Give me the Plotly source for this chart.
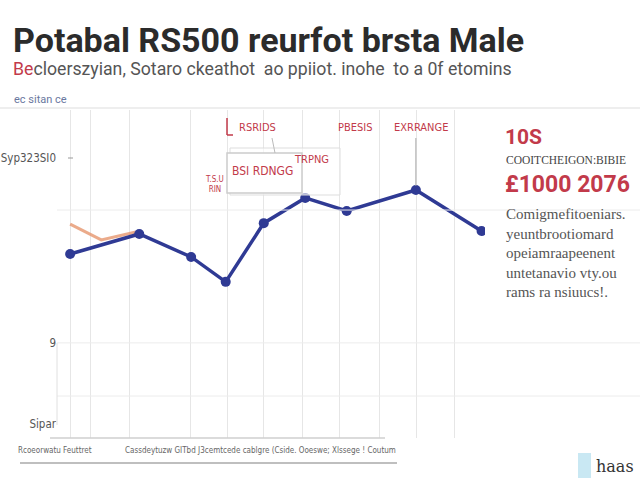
import plotly.graph_objects as go

# ---- data ----
x_main = [0, 2.0, 3.5, 4.5, 5.6, 6.8, 8.0, 10.0, 11.9]
y_main = [56.1, 62.2, 55.2, 47.6, 65.5, 73.2, 69.2, 75.6, 63.1]
x_orange = [0, 0.9, 1.9]
y_orange = [65.2, 60.4, 62.8]

y_tick_vals = [4.3, 29, 85.4]
y_tick_text = ["Sipar", "9", "Syp323SI0"]
grid_x = [0, 0.58, 1.73, 3.47, 4.54, 5.58, 6.73, 7.8, 8.96, 10.03, 11.13]
grid_y = [12.8, 29, 69.5]

title = "Potabal RS500 reurfot brsta Male"
subtitle_red = "Be"
subtitle_rest = "cloerszyian, Sotaro ckeathot  ao ppiiot. inohe  to a 0f etomins"
kicker = "ec sitan ce"
x_label_left = "Rcoeorwatu Feuttret"
x_label_right = "Cassdeytuzw GITbd J3cemtcede cablgre (Cside. Ooeswe; Xlssege ! Coutum"
panel_head = "10S"
panel_sub = "COOITCHEIGON:BIBIE"
panel_big = "£1000 2076"
panel_body = ["Comigmefitoeniars.", "yeuntbrootiomard", "opeiamraapeenent",
              "untetanavio vty.ou", "rams ra nsiuucs!."]
callouts = ["RSRIDS", "PBESIS", "EXRRANGE", "BSI RDNGG", "TRPNG", "T.S.U<br>RIN"]
brand = "haas"

W, H = 640, 480
def P(x):
    return x / W
def Q(y):
    return 1 - y / H

RED = "#c23a4a"
BLUE = "#2f3a94"
COND = "DejaVu Sans Condensed, Roboto Condensed, Roboto"

fig = go.Figure()
fig.add_trace(go.Scatter(x=x_orange, y=y_orange, mode="lines",
                         line=dict(color="rgba(230,150,110,0.8)", width=3),
                         hoverinfo="skip", showlegend=False))
fig.add_trace(go.Scatter(x=x_main, y=y_main, mode="lines+markers",
                         line=dict(color=BLUE, width=3.5),
                         marker=dict(color=BLUE, size=10),
                         showlegend=False))

fig.update_layout(
    width=W, height=H, margin=dict(l=0, r=0, t=0, b=0),
    paper_bgcolor="white", plot_bgcolor="white",
    xaxis=dict(domain=[P(57), P(485)], range=[-0.38, 12.0],
               tickvals=grid_x, showticklabels=False, showgrid=True,
               gridcolor="#e6e6e6", gridwidth=1, zeroline=False, showline=False),
    yaxis=dict(domain=[Q(438), Q(110)], range=[0, 100],
               tickvals=y_tick_vals, ticktext=y_tick_text, showgrid=False,
               zeroline=False, showline=False,
               tickfont=dict(family=COND, size=11.5, color="#555")),
)

shapes = []
shapes.append(dict(type="line", xref="paper", yref="paper", x0=0, x1=1, y0=Q(108), y1=Q(108),
                   line=dict(color="#eeeeee", width=2)))
for gy in grid_y:
    shapes.append(dict(type="line", xref="paper", yref="y", x0=P(57), x1=1, y0=gy, y1=gy,
                       line=dict(color="#ececec", width=1)))
shapes.append(dict(type="line", xref="paper", yref="paper", x0=P(50), x1=P(385), y0=Q(438), y1=Q(438),
                   line=dict(color="#cfcfcf", width=1.5)))
shapes.append(dict(type="line", xref="paper", yref="paper", x0=P(57), x1=P(57), y0=Q(343), y1=Q(425),
                   line=dict(color="#e0e0e0", width=1)))
shapes.append(dict(type="line", xref="paper", yref="paper", x0=P(20), x1=P(397), y0=Q(463), y1=Q(463),
                   line=dict(color="#aaaaaa", width=1.5)))
shapes.append(dict(type="line", xref="paper", yref="paper", x0=P(68), x1=P(73), y0=Q(158), y1=Q(158),
                   line=dict(color="#999999", width=1)))
shapes.append(dict(type="rect", xref="paper", yref="paper", x0=P(230), x1=P(340), y0=Q(195), y1=Q(148),
                   line=dict(color="#dddddd", width=1), fillcolor="rgba(255,255,255,0.6)"))
shapes.append(dict(type="rect", xref="paper", yref="paper", x0=P(227), x1=P(302), y0=Q(193), y1=Q(153),
                   line=dict(color="#cccccc", width=1.5), fillcolor="white"))
shapes.append(dict(type="line", xref="paper", yref="paper", x0=P(227), x1=P(227), y0=Q(118), y1=Q(135),
                   line=dict(color=RED, width=1.5)))
shapes.append(dict(type="line", xref="paper", yref="paper", x0=P(227), x1=P(233), y0=Q(135), y1=Q(135),
                   line=dict(color=RED, width=1.5)))
shapes.append(dict(type="line", xref="paper", yref="paper", x0=P(272), x1=P(275), y0=Q(138), y1=Q(153),
                   line=dict(color="#bbbbbb", width=1)))
shapes.append(dict(type="line", xref="x", yref="paper", x0=x_main[7], x1=x_main[7], y0=Q(138), y1=Q(186),
                   line=dict(color="#aaaaaa", width=1)))
shapes.append(dict(type="rect", xref="paper", yref="paper", x0=P(578), x1=P(591), y0=Q(478), y1=Q(453),
                   line=dict(width=0), fillcolor="#c9e8f3"))
fig.update_layout(shapes=shapes)

ann = []
def A(text, x, y, size, color="#333", family="Roboto", xanchor="left", yanchor="middle", align="left"):
    ann.append(dict(text=text, x=P(x), y=Q(y), xref="paper", yref="paper", showarrow=False,
                    xanchor=xanchor, yanchor=yanchor, align=align,
                    font=dict(size=size, color=color, family=family)))

A("<b>" + title + "</b>", 11, 40, 34, "#2b2b2b", "Roboto")
A("<span style='color:%s'>%s</span>%s" % (RED, subtitle_red, subtitle_rest), 11, 69, 17.7,
  "#555555", "Roboto")
A(kicker, 12, 99, 11, "#6a78a0", "Roboto")
A(x_label_left, 16, 450, 8, "#666", COND)
A(x_label_right, 123, 450, 8, "#666", COND)
A(callouts[0], 237, 128, 11, RED, COND)
A(callouts[1], 355, 128, 11, RED, COND, xanchor="center")
A(callouts[2], 421, 128, 11, RED, COND, xanchor="center")
A(callouts[3], 262, 171, 12, RED, COND, xanchor="center")
A(callouts[4], 311, 160, 11, RED, COND, xanchor="center")
A(callouts[5], 214, 184, 8, RED, COND, xanchor="center", align="center")
A("<b>" + panel_head + "</b>", 503, 137, 21, RED, "Roboto")
A(panel_sub, 504, 160, 11.5, "#444", "Liberation Serif")
A("<b>" + panel_big + "</b>", 503, 184, 23, RED, "Roboto")
A("<br>".join(panel_body), 504, 253, 15, "#555", "Liberation Serif")
A(brand, 594, 466, 16, "#333", "DejaVu Serif")
fig.update_layout(annotations=ann)

fig.write_html("out.html")
